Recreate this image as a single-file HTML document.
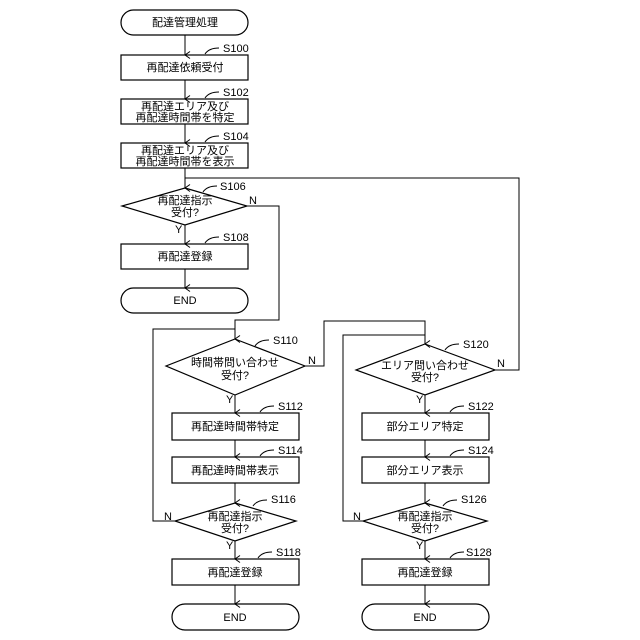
<!DOCTYPE html>
<html><head><meta charset="utf-8"><style>
html,body{margin:0;padding:0;background:#fff;width:640px;height:640px;overflow:hidden}
text{font-family:"Liberation Sans","Noto Sans CJK JP",sans-serif;font-size:11px;fill:#000}
</style></head><body>
<svg width="640" height="640" viewBox="0 0 640 640" xmlns="http://www.w3.org/2000/svg">
<defs><marker id="a" markerWidth="8" markerHeight="8" refX="4" refY="7" orient="auto-start-reverse" markerUnits="userSpaceOnUse"><path d="M0.5,2 L4,7 L7.5,2" fill="none" stroke="#000" stroke-width="1"/></marker>
<marker id="b" markerWidth="8" markerHeight="8" refX="7" refY="4" orient="0" markerUnits="userSpaceOnUse"><path d="M2,0.5 L7,4 L2,7.5" fill="none" stroke="#000" stroke-width="1"/></marker></defs>
<g fill="none" stroke="#000" stroke-width="1.2">
<rect x="121" y="10" width="127" height="25" rx="12.5"/>
<rect x="121" y="55" width="127" height="25"/>
<rect x="121" y="99" width="127" height="25"/>
<rect x="121" y="143" width="127" height="25"/>
<polygon points="185,188 247,206 185,225 122,206"/>
<rect x="121" y="244" width="127" height="25"/>
<rect x="121" y="288" width="127" height="25" rx="12.5"/>
<polygon points="235,339 305,366 235,395 166,366"/>
<rect x="172" y="413" width="127" height="27"/>
<rect x="172" y="457" width="127" height="26"/>
<polygon points="235,503 296,521 235,541 175,521"/>
<rect x="172" y="559" width="127" height="26"/>
<rect x="172" y="604" width="127" height="26" rx="13"/>
<polygon points="425,344 495,370 425,395 356,370"/>
<rect x="362" y="413" width="127" height="27"/>
<rect x="362" y="457" width="127" height="26"/>
<polygon points="425,503 487,521 425,541 363,521"/>
<rect x="362" y="559" width="127" height="26"/>
<rect x="362" y="604" width="127" height="26" rx="13"/>
</g>
<g fill="none" stroke="#000" stroke-width="1">
<line x1="185" y1="35" x2="185" y2="55" marker-end="url(#a)"/>
<line x1="185" y1="80" x2="185" y2="99" marker-end="url(#a)"/>
<line x1="185" y1="124" x2="185" y2="143" marker-end="url(#a)"/>
<line x1="185" y1="168" x2="185" y2="188" marker-end="url(#a)"/>
<line x1="185" y1="225" x2="185" y2="244" marker-end="url(#a)"/>
<line x1="185" y1="269" x2="185" y2="288" marker-end="url(#a)"/>
<polyline points="247,206 279,206 279,320 235,320 235,339" marker-end="url(#a)"/>
<polyline points="175,521 153,521 153,329 235,329"/>
<line x1="235" y1="395" x2="235" y2="413" marker-end="url(#a)"/>
<line x1="235" y1="440" x2="235" y2="457" marker-end="url(#a)"/>
<line x1="235" y1="483" x2="235" y2="503" marker-end="url(#a)"/>
<line x1="235" y1="541" x2="235" y2="559" marker-end="url(#a)"/>
<line x1="235" y1="585" x2="235" y2="604" marker-end="url(#a)"/>
<polyline points="305,366 324,366 324,321 425,321 425,344" marker-end="url(#a)"/>
<polyline points="363,521 343,521 343,335 425,335"/>
<line x1="425" y1="395" x2="425" y2="413" marker-end="url(#a)"/>
<line x1="425" y1="440" x2="425" y2="457" marker-end="url(#a)"/>
<line x1="425" y1="483" x2="425" y2="503" marker-end="url(#a)"/>
<line x1="425" y1="541" x2="425" y2="559" marker-end="url(#a)"/>
<line x1="425" y1="585" x2="425" y2="604" marker-end="url(#a)"/>
<polyline points="495,370 519,370 519,178 185,178"/>
<path d="M205,54 q4,-6 14,-6"/><path d="M205,98 q4,-6 14,-6"/><path d="M205,142 q4,-6 14,-6"/>
<path d="M203,192 q4,-6 14,-6"/><path d="M205,243 q4,-6 14,-6"/>
<path d="M255,346 q4,-6 14,-6"/><path d="M260,412 q4,-6 14,-6"/><path d="M260,456 q4,-6 14,-6"/>
<path d="M253,506 q4,-6 14,-6"/><path d="M258,558 q4,-6 14,-6"/>
<path d="M445,350 q4,-6 14,-6"/><path d="M450,412 q4,-6 14,-6"/><path d="M450,456 q4,-6 14,-6"/>
<path d="M443,506 q4,-6 14,-6"/><path d="M450,558 q4,-6 14,-6"/>
</g>
<g text-anchor="middle">
<text x="185" y="26">配達管理処理</text>
<text x="185" y="71">再配達依頼受付</text>
<text x="185" y="110">再配達エリア及び</text><text x="185" y="121">再配達時間帯を特定</text>
<text x="185" y="154">再配達エリア及び</text><text x="185" y="165">再配達時間帯を表示</text>
<text x="185" y="204">再配達指示</text><text x="185" y="216">受付?</text>
<text x="185" y="260">再配達登録</text>
<text x="185" y="304">END</text>
<text x="235" y="366">時間帯問い合わせ</text><text x="235" y="379">受付?</text>
<text x="235" y="430">再配達時間帯特定</text>
<text x="235" y="474">再配達時間帯表示</text>
<text x="235" y="520">再配達指示</text><text x="235" y="532">受付?</text>
<text x="235" y="576">再配達登録</text>
<text x="235" y="621">END</text>
<text x="425" y="369">エリア問い合わせ</text><text x="425" y="381">受付?</text>
<text x="425" y="430">部分エリア特定</text>
<text x="425" y="474">部分エリア表示</text>
<text x="425" y="520">再配達指示</text><text x="425" y="532">受付?</text>
<text x="425" y="576">再配達登録</text>
<text x="425" y="621">END</text>
</g>
<g font-size="10">
<text x="223" y="52">S100</text><text x="223" y="96">S102</text><text x="223" y="140">S104</text>
<text x="220" y="190">S106</text><text x="223" y="241">S108</text>
<text x="273" y="344">S110</text><text x="278" y="410">S112</text><text x="278" y="454">S114</text>
<text x="271" y="503">S116</text><text x="276" y="556">S118</text>
<text x="463" y="348">S120</text><text x="468" y="410">S122</text><text x="468" y="454">S124</text>
<text x="461" y="503">S126</text><text x="466" y="556">S128</text>
<text x="249" y="204">N</text><text x="175" y="233">Y</text>
<text x="308" y="364">N</text><text x="226" y="403">Y</text>
<text x="164" y="520">N</text><text x="226" y="549">Y</text>
<text x="497" y="367">N</text><text x="416" y="403">Y</text>
<text x="353" y="520">N</text><text x="416" y="549">Y</text>
</g>
</svg>
</body></html>
